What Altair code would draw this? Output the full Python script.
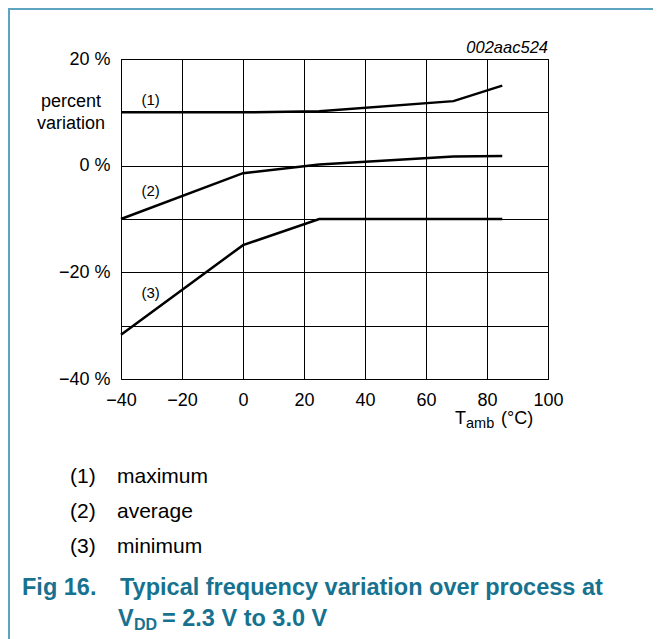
import altair as alt
import pandas as pd

# ---- data ----
temp_max = [-40, 0, 25, 69, 85]
val_max = [10.0, 10.0, 10.2, 12.1, 15.0]
temp_avg = [-40, 0, 25, 69, 85]
val_avg = [-10.0, -1.4, 0.2, 1.7, 1.8]
temp_min = [-40, 0, 25, 85]
val_min = [-31.7, -14.9, -10.0, -10.0]

curve_labels = ["(1)", "(2)", "(3)"]
label_temp = [-30.3, -30.3, -30.3]
label_val = [12.4, -4.7, -23.9]

x_ticks = [-40, -20, 0, 20, 40, 60, 80, 100]
y_ticks = [-40, -30, -20, -10, 0, 10, 20]

legend_nums = ["(1)", "(2)", "(3)"]
legend_names = ["maximum", "average", "minimum"]

FONT = "Liberation Sans"
TEAL = "#17728f"
BORDER = "#5ea3bf"

rows = []
for name, ts, vs in [("max", temp_max, val_max), ("avg", temp_avg, val_avg), ("min", temp_min, val_min)]:
    for t, v in zip(ts, vs):
        rows.append({"series": name, "t": t, "v": v})
lines_df = pd.DataFrame(rows)
labels_df = pd.DataFrame({"label": curve_labels, "t": label_temp, "v": label_val})
dummy = pd.DataFrame({"a": [0]})

xscale = alt.Scale(domain=[-40, 100], nice=False, zero=False)
yscale = alt.Scale(domain=[-40, 20], nice=False, zero=False)

xaxis = alt.Axis(values=x_ticks, grid=True, gridColor="#000000", gridWidth=1, gridOpacity=1,
                 ticks=False, domain=False, labelFont=FONT, labelFontSize=18, labelColor="#000000",
                 labelPadding=12, title=None, labelFlush=False, labelOverlap=False)
yaxis = alt.Axis(values=y_ticks, grid=True, gridColor="#000000", gridWidth=1, gridOpacity=1,
                 ticks=False, domain=False, labelFont=FONT, labelFontSize=18, labelColor="#000000",
                 labelPadding=11, title=None, labelFlush=False, labelOverlap=False,
                 labelExpr="datum.value % 20 === 0 ? format(datum.value, 'd') + ' %' : ''")

border = alt.Chart(dummy).mark_rect(fillOpacity=0, stroke=BORDER, strokeWidth=2).encode(
    x=alt.value(-112), x2=alt.value(600), y=alt.value(-50), y2=alt.value(700))

lines = alt.Chart(lines_df).mark_line(color="#000000", strokeWidth=2.5).encode(
    x=alt.X("t:Q", scale=xscale, axis=xaxis),
    y=alt.Y("v:Q", scale=yscale, axis=yaxis),
    detail="series:N",
)

curve_text = alt.Chart(labels_df).mark_text(font=FONT, fontSize=15, color="#000000",
                                            align="center", baseline="middle").encode(
    x=alt.X("t:Q", scale=xscale), y=alt.Y("v:Q", scale=yscale), text="label:N")


def txt(text, x, y, size, align="left", baseline="alphabetic", color="#000000", **kw):
    return alt.Chart(dummy).mark_text(text=text, align=align, baseline=baseline, fontSize=size,
                                      font=FONT, color=color, **kw).encode(
        x=alt.value(x), y=alt.value(y))


texts = [
    txt("percent", -50, 43, 18, align="center", baseline="middle"),
    txt("variation", -50, 65, 18, align="center", baseline="middle"),
    txt("002aac524", 427, -11, 16.5, align="right", baseline="middle", fontStyle="italic"),
    txt("T", 334, 365, 18),
    txt("amb", 345, 369, 14.5),
    txt("(°C)", 380, 365, 18),
]

leg_y = [418, 453, 488]
for num, name, yy in zip(legend_nums, legend_names, leg_y):
    texts.append(txt(num, -51, yy, 21, baseline="middle"))
    texts.append(txt(name, -4, yy, 21, baseline="middle"))

texts += [
    txt("Fig 16.", -99, 536, 23.5, color=TEAL, fontWeight="bold"),
    txt("Typical frequency variation over process at", -1, 536, 23.5, color=TEAL, fontWeight="bold"),
    txt("V", -3, 567, 23.5, color=TEAL, fontWeight="bold"),
    txt("DD", 13, 571, 16, color=TEAL, fontWeight="bold"),
    txt("= 2.3 V to 3.0 V", 41, 567, 23.5, color=TEAL, fontWeight="bold"),
]

chart = alt.layer(border, lines, curve_text, *texts).properties(
    width=427, height=320,
    autosize=alt.AutoSizeParams(type="none"),
    padding={"left": 113, "top": 51, "right": 105, "bottom": 260},
    background="#ffffff",
).configure_view(stroke="#000000", strokeWidth=1)

chart.save("out.html", embed_options={"renderer": "svg", "actions": False})
